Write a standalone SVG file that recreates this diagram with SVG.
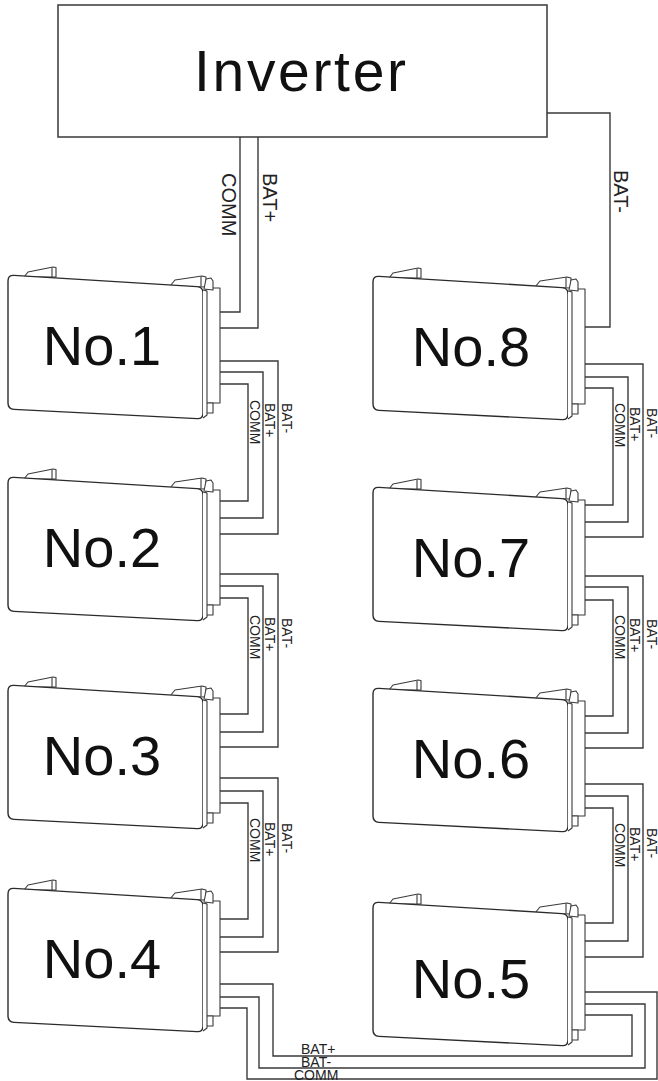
<svg xmlns="http://www.w3.org/2000/svg" width="658" height="1081" viewBox="0 0 658 1081">
<style>
.body{fill:#fff;stroke:#2b2b2b;stroke-width:1.4;stroke-linejoin:round}
.thin{fill:#fff;stroke:#3a3a3a;stroke-width:1.1;stroke-linejoin:round}
.wire{fill:none;stroke:#3a3a3a;stroke-width:1.4}
.box{fill:#fff;stroke:#444;stroke-width:1.6}
.num{font-family:"Liberation Sans",Arial,sans-serif;font-size:56px;fill:#111;text-anchor:middle}
.inv{font-family:"Liberation Sans",Arial,sans-serif;font-size:57px;fill:#111;text-anchor:middle}
.lbl{font-family:"Liberation Sans",Arial,sans-serif;font-size:14px;fill:#222}
.lblb{font-family:"Liberation Sans",Arial,sans-serif;font-size:20px;fill:#222}
.lblh{font-family:"Liberation Sans",Arial,sans-serif;font-size:14px;fill:#222}
</style>
<defs>
<g id="bat">
  <polygon class="thin" points="16,2 20,-3 45,-8 48,-7.5 48,2"/>
  <line class="thin" x1="44" y1="-7" x2="44" y2="2"/>
  <polygon class="thin" points="162,11 167,5 194,1 198,2 198,12"/>
  <line class="thin" x1="193" y1="1.5" x2="193" y2="11.5"/>
  <rect class="thin" x="198" y="13" width="14" height="115"/>
  <path class="thin" d="M196,14 L198,4 L203,3 L205,6 L205,15 Z"/>
  <rect class="thin" x="198" y="128" width="7" height="10"/>
  <path class="body" d="M0,6 Q0,0 6,0.4 L189,11.6 Q195,12 195,18 L195,138 Q195,144 189,143.6 L6,134.4 Q0,134 0,128 Z"/>
  <path class="thin" d="M195,15 L199,16 L199,140 L195,143"/>
</g>
</defs>

<g id="inverter">
  <rect class="box" x="58" y="5" width="489" height="132"/>
  <text class="inv" x="300" y="91" textLength="212" lengthAdjust="spacing">Inverter</text>
</g>

<g id="connectors">
  <path class="wire" d="M240,137 V312 H220"/>
  <path class="wire" d="M258,137 V328 H220"/>
  <path class="wire" d="M547,113 H610 V327 H585"/>

  <path class="wire" d="M220,361 H278 V534 H220"/>
  <path class="wire" d="M220,372 H263 V518 H220"/>
  <path class="wire" d="M220,384 H248 V501 H220"/>
  <path class="wire" d="M220,574 H278 V747 H220"/>
  <path class="wire" d="M220,586 H263 V732 H220"/>
  <path class="wire" d="M220,598 H248 V714 H220"/>
  <path class="wire" d="M220,778 H278 V952 H220"/>
  <path class="wire" d="M220,791 H263 V937 H220"/>
  <path class="wire" d="M220,803 H248 V919 H220"/>

  <path class="wire" d="M585,364 H643 V537 H585"/>
  <path class="wire" d="M585,377 H628 V522 H585"/>
  <path class="wire" d="M585,388 H613 V505 H585"/>
  <path class="wire" d="M585,576 H643 V748 H585"/>
  <path class="wire" d="M585,587 H628 V733 H585"/>
  <path class="wire" d="M585,600 H613 V716 H585"/>
  <path class="wire" d="M585,784 H643 V957 H585"/>
  <path class="wire" d="M585,796 H628 V941 H585"/>
  <path class="wire" d="M585,808 H613 V923 H585"/>

  <path class="wire" d="M220,984 H273 V1056 H632 V1015 H585"/>
  <path class="wire" d="M220,997 H259 V1068 H645 V1004 H585"/>
  <path class="wire" d="M220,1008 H247 V1079 H657 V992 H585"/>

  <text class="lblb" transform="translate(222,173) rotate(90)">COMM</text>
  <text class="lblb" transform="translate(263,173) rotate(90)">BAT+</text>
  <text class="lblb" transform="translate(614,170) rotate(90)">BAT-</text>

  <text class="lbl" transform="translate(250,400) rotate(90)">COMM</text>
  <text class="lbl" transform="translate(265,403) rotate(90)">BAT+</text>
  <text class="lbl" transform="translate(282,403) rotate(90)">BAT-</text>
  <text class="lbl" transform="translate(250,615) rotate(90)">COMM</text>
  <text class="lbl" transform="translate(265,617) rotate(90)">BAT+</text>
  <text class="lbl" transform="translate(282,618) rotate(90)">BAT-</text>
  <text class="lbl" transform="translate(250,818) rotate(90)">COMM</text>
  <text class="lbl" transform="translate(265,822) rotate(90)">BAT+</text>
  <text class="lbl" transform="translate(282,823) rotate(90)">BAT-</text>

  <text class="lbl" transform="translate(615,403) rotate(90)">COMM</text>
  <text class="lbl" transform="translate(630,407) rotate(90)">BAT+</text>
  <text class="lbl" transform="translate(647,408) rotate(90)">BAT-</text>
  <text class="lbl" transform="translate(615,615) rotate(90)">COMM</text>
  <text class="lbl" transform="translate(630,618) rotate(90)">BAT+</text>
  <text class="lbl" transform="translate(647,619) rotate(90)">BAT-</text>
  <text class="lbl" transform="translate(615,823) rotate(90)">COMM</text>
  <text class="lbl" transform="translate(630,827) rotate(90)">BAT+</text>
  <text class="lbl" transform="translate(647,828) rotate(90)">BAT-</text>

  <text class="lblh" x="301" y="1054">BAT+</text>
  <text class="lblh" x="301" y="1067">BAT-</text>
  <text class="lblh" x="294" y="1080">COMM</text>
</g>

<g id="no1"><use href="#bat" x="8" y="275"/><text class="num" x="102" y="365">No.1</text></g>
<g id="no2"><use href="#bat" x="8" y="477"/><text class="num" x="102" y="567">No.2</text></g>
<g id="no3"><use href="#bat" x="8" y="685"/><text class="num" x="102" y="775">No.3</text></g>
<g id="no4"><use href="#bat" x="8" y="888"/><text class="num" x="102" y="978">No.4</text></g>
<g id="no8"><use href="#bat" x="373" y="276"/><text class="num" x="471" y="366">No.8</text></g>
<g id="no7"><use href="#bat" x="373" y="487"/><text class="num" x="471" y="577">No.7</text></g>
<g id="no6"><use href="#bat" x="373" y="688"/><text class="num" x="471" y="778">No.6</text></g>
<g id="no5"><use href="#bat" x="373" y="902"/><text class="num" x="471" y="998">No.5</text></g>
</svg>
